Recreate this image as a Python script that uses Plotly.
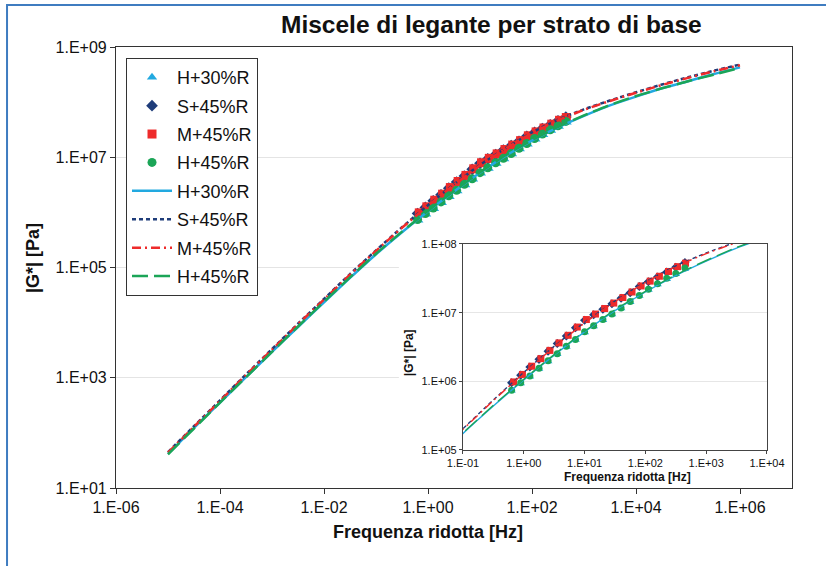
import plotly.graph_objects as go

# ---------------- data ----------------
series_names = ["H+30%R", "S+45%R", "M+45%R", "H+45%R"]

# measured points (reduced frequency Hz, |G*| Pa)
f_H30 = [0.65, 0.92, 1.30, 1.84, 2.60, 3.67, 5.19, 7.33, 10.4, 14.6, 20.7, 29.2, 41.2, 58.2, 82.2, 116, 164, 232, 327, 462]
g_H30 = [7.2e5, 9.2e5, 1.16e6, 1.50e6, 1.93e6, 2.45e6, 3.13e6, 3.98e6, 5.1e6, 6.25e6, 7.7e6, 9.33e6, 1.14e7, 1.41e7, 1.73e7, 2.12e7, 2.55e7, 3.05e7, 3.6e7, 4.3e7]

f_S45 = [0.63, 0.89, 1.26, 1.78, 2.51, 3.55, 5.01, 7.08, 10.0, 14.1, 20.0, 28.2, 39.8, 56.2, 79.4, 112, 158, 224, 316, 447]
g_S45 = [9.55e5, 1.23e6, 1.62e6, 2.09e6, 2.75e6, 3.55e6, 4.57e6, 6.03e6, 7.76e6, 9.33e6, 1.12e7, 1.35e7, 1.62e7, 1.95e7, 2.40e7, 2.82e7, 3.31e7, 3.89e7, 4.57e7, 5.37e7]

f_M45 = [0.68, 0.95, 1.35, 1.91, 2.69, 3.80, 5.37, 7.59, 10.7, 15.1, 21.4, 30.2, 42.7, 60.3, 85.1, 120, 170, 240, 339, 457]
g_M45 = [9.8e5, 1.26e6, 1.66e6, 2.14e6, 2.82e6, 3.63e6, 4.68e6, 6.17e6, 7.94e6, 9.55e6, 1.15e7, 1.38e7, 1.66e7, 2.0e7, 2.45e7, 2.88e7, 3.39e7, 3.98e7, 4.68e7, 5.25e7]

f_H45 = [0.63, 0.89, 1.26, 1.78, 2.51, 3.55, 5.01, 7.08, 10.0, 14.1, 20.0, 28.2, 39.8, 56.2, 79.4, 112, 158, 224, 316, 447]
g_H45 = [7.41e5, 9.55e5, 1.20e6, 1.55e6, 2.0e6, 2.51e6, 3.24e6, 4.07e6, 5.25e6, 6.46e6, 7.94e6, 9.55e6, 1.17e7, 1.45e7, 1.78e7, 2.19e7, 2.63e7, 3.16e7, 3.72e7, 4.47e7]

# model master curves (read every half decade)
f_model = [1e-5, 3.16e-5, 1e-4, 3.16e-4, 1e-3, 3.16e-3, 1e-2, 3.16e-2, 0.1, 0.316, 1, 3.16,
           10, 31.6, 100, 316, 1000, 3160, 1e4, 3.16e4, 1e5, 3.16e5, 1e6]
m_H30 = [41.7, 123, 355, 1023, 2951, 8318, 23400, 64600, 1.74e5, 4.37e5, 1.05e6, 2.40e6,
         5.25e6, 1.07e7, 2.0e7, 3.47e7, 5.62e7, 8.71e7, 1.26e8, 1.78e8, 2.40e8, 3.24e8, 4.27e8]
m_S45 = [44.7, 132, 389, 1148, 3311, 9550, 26900, 75900, 2.04e5, 5.37e5, 1.35e6, 3.24e6,
         7.24e6, 1.48e7, 2.82e7, 4.79e7, 7.41e7, 1.07e8, 1.51e8, 2.09e8, 2.82e8, 3.72e8, 4.79e8]
m_M45 = [43.7, 129, 380, 1122, 3236, 9333, 26300, 74100, 2.0e5, 5.25e5, 1.32e6, 3.16e6,
         7.08e6, 1.45e7, 2.75e7, 4.68e7, 7.24e7, 1.05e8, 1.48e8, 2.04e8, 2.75e8, 3.63e8, 4.68e8]
m_H45 = [40.7, 120, 355, 1023, 2951, 8511, 24000, 66100, 1.78e5, 4.47e5, 1.07e6, 2.45e6,
         5.37e6, 1.10e7, 2.04e7, 3.55e7, 5.75e7, 8.91e7, 1.29e8, 1.78e8, 2.40e8, 3.16e8, 4.17e8]

main_xticks = [1e-6, 1e-4, 1e-2, 1e0, 1e2, 1e4, 1e6]
main_xtext = ["1.E-06", "1.E-04", "1.E-02", "1.E+00", "1.E+02", "1.E+04", "1.E+06"]
main_yticks = [1e1, 1e3, 1e5, 1e7, 1e9]
main_ytext = ["1.E+01", "1.E+03", "1.E+05", "1.E+07", "1.E+09"]
ins_xticks = [1e-1, 1e0, 1e1, 1e2, 1e3, 1e4]
ins_xtext = ["1.E-01", "1.E+00", "1.E+01", "1.E+02", "1.E+03", "1.E+04"]
ins_yticks = [1e5, 1e6, 1e7, 1e8]
ins_ytext = ["1.E+05", "1.E+06", "1.E+07", "1.E+08"]

# ---------------- styles ----------------
colors = ["#22a9e0", "#1f3d7a", "#ee2b2b", "#1ba557"]
symbols = ["triangle-up", "diamond", "square", "circle"]
msizes = [9, 9, 9, 9]
ins_sizes = [6, 7, 7, 7]
dashes = ["solid", "4px,3px", "9px,4px,2px,4px", "16px,6px"]

pts_f = [f_H30, f_S45, f_M45, f_H45]
pts_g = [g_H30, g_S45, g_M45, g_H45]
mod_g = [m_H30, m_S45, m_M45, m_H45]

FONT = "Liberation Sans, Arial, sans-serif"

fig = go.Figure()

for i in range(4):
    fig.add_trace(go.Scatter(
        x=pts_f[i], y=pts_g[i], mode="markers", name=series_names[i],
        legendgroup="m%d" % i,
        marker=dict(symbol=symbols[i], size=msizes[i], color=colors[i], line=dict(width=0)),
        xaxis="x", yaxis="y"))
for i in range(4):
    fig.add_trace(go.Scatter(
        x=f_model, y=mod_g[i], mode="lines", name=series_names[i],
        legendgroup="l%d" % i,
        line=dict(color=colors[i], width=2.5, dash=dashes[i], shape="spline", smoothing=0.6),
        xaxis="x", yaxis="y"))
for i in range(4):
    fig.add_trace(go.Scatter(
        x=pts_f[i], y=pts_g[i], mode="markers", showlegend=False,
        marker=dict(symbol=symbols[i], size=ins_sizes[i], color=colors[i], line=dict(width=0)),
        xaxis="x2", yaxis="y2"))
for i in range(4):
    fig.add_trace(go.Scatter(
        x=f_model, y=mod_g[i], mode="lines", showlegend=False,
        line=dict(color=colors[i], width=1.4, dash=dashes[i], shape="spline", smoothing=0.6),
        xaxis="x2", yaxis="y2"))

fig.update_layout(
    width=826, height=566,
    margin=dict(l=116, r=34, t=47, b=78),
    paper_bgcolor="white", plot_bgcolor="white",
    font=dict(family=FONT, color="#111"),
    showlegend=True,
    legend=dict(
        x=0.0148, y=0.975, xanchor="left", yanchor="top",
        bgcolor="white", bordercolor="#333", borderwidth=1,
        font=dict(size=18, family=FONT, color="#111"),
        traceorder="grouped", tracegroupgap=2, itemwidth=40,
    ),
    xaxis=dict(
        type="log", range=[-6, 7], domain=[0, 1], anchor="y",
        tickvals=main_xticks, ticktext=main_xtext,
        ticks="outside", ticklen=5, tickcolor="#333",
        tickfont=dict(size=16, family=FONT, color="#111"),
        showline=True, linecolor="#333", linewidth=1.2, mirror=True,
        showgrid=False, zeroline=False,
    ),
    yaxis=dict(
        type="log", range=[1, 9], domain=[0, 1], anchor="x",
        tickvals=main_yticks, ticktext=main_ytext,
        ticks="outside", ticklen=5, tickcolor="#333",
        tickfont=dict(size=16, family=FONT, color="#111"),
        showline=True, linecolor="#333", linewidth=1.2, mirror=True,
        showgrid=True, gridcolor="#e4e4e4", gridwidth=1, zeroline=False,
    ),
    xaxis2=dict(
        type="log", range=[-1, 4], domain=[0.5133, 0.963], anchor="y2",
        tickvals=ins_xticks, ticktext=ins_xtext,
        ticks="outside", ticklen=3, tickcolor="#444",
        tickfont=dict(size=11, family=FONT, color="#111"),
        showline=True, linecolor="#444", linewidth=1.3, mirror=True,
        showgrid=False, zeroline=False,
    ),
    yaxis2=dict(
        type="log", range=[5, 8], domain=[0.0862, 0.5533], anchor="x2",
        tickvals=ins_yticks, ticktext=ins_ytext,
        ticks="outside", ticklen=3, tickcolor="#444",
        tickfont=dict(size=11, family=FONT, color="#111"),
        showline=True, linecolor="#444", linewidth=1.3, mirror=True,
        showgrid=True, gridcolor="#e6e6e6", zeroline=False,
    ),
    shapes=[
        dict(type="rect", xref="x", yref="y", x0=10 ** -0.56, x1=1e7, y0=10, y1=10 ** 5.72,
             fillcolor="white", line=dict(width=0), layer="between"),
        dict(type="rect", xref="paper", yref="paper", x0=-0.1612, x1=1.3, y0=-0.5, y1=1.0952,
             fillcolor="rgba(0,0,0,0)", line=dict(color="#3f7cc0", width=2), layer="above"),
    ],
    annotations=[
        dict(text="<b>Miscele di legante per strato di base</b>", xref="paper", yref="paper",
             x=0.556, y=1.05, xanchor="center", yanchor="middle", showarrow=False,
             font=dict(size=24.5, family=FONT, color="#111")),
        dict(text="<b>Frequenza ridotta [Hz]</b>", xref="paper", yref="paper",
             x=0.4615, y=-0.0998, xanchor="center", yanchor="middle", showarrow=False,
             font=dict(size=18, family=FONT, color="#111")),
        dict(text="<b>|G*| [Pa]</b>", xref="paper", yref="paper",
             x=-0.1228, y=0.5215, xanchor="center", yanchor="middle", showarrow=False,
             textangle=-90, font=dict(size=18, family=FONT, color="#111")),
        dict(text="<b>Frequenza ridotta [Hz]</b>", xref="paper", yref="paper",
             x=0.756, y=0.025, xanchor="center", yanchor="middle", showarrow=False,
             font=dict(size=12, family=FONT, color="#111")),
        dict(text="<b>|G*| [Pa]</b>", xref="paper", yref="paper",
             x=0.4334, y=0.308, xanchor="center", yanchor="middle", showarrow=False,
             textangle=-90, font=dict(size=12, family=FONT, color="#111")),
    ],
)

fig.write_html("out.html", config={"displayModeBar": False},
               post_script="document.body.style.margin='0';")
